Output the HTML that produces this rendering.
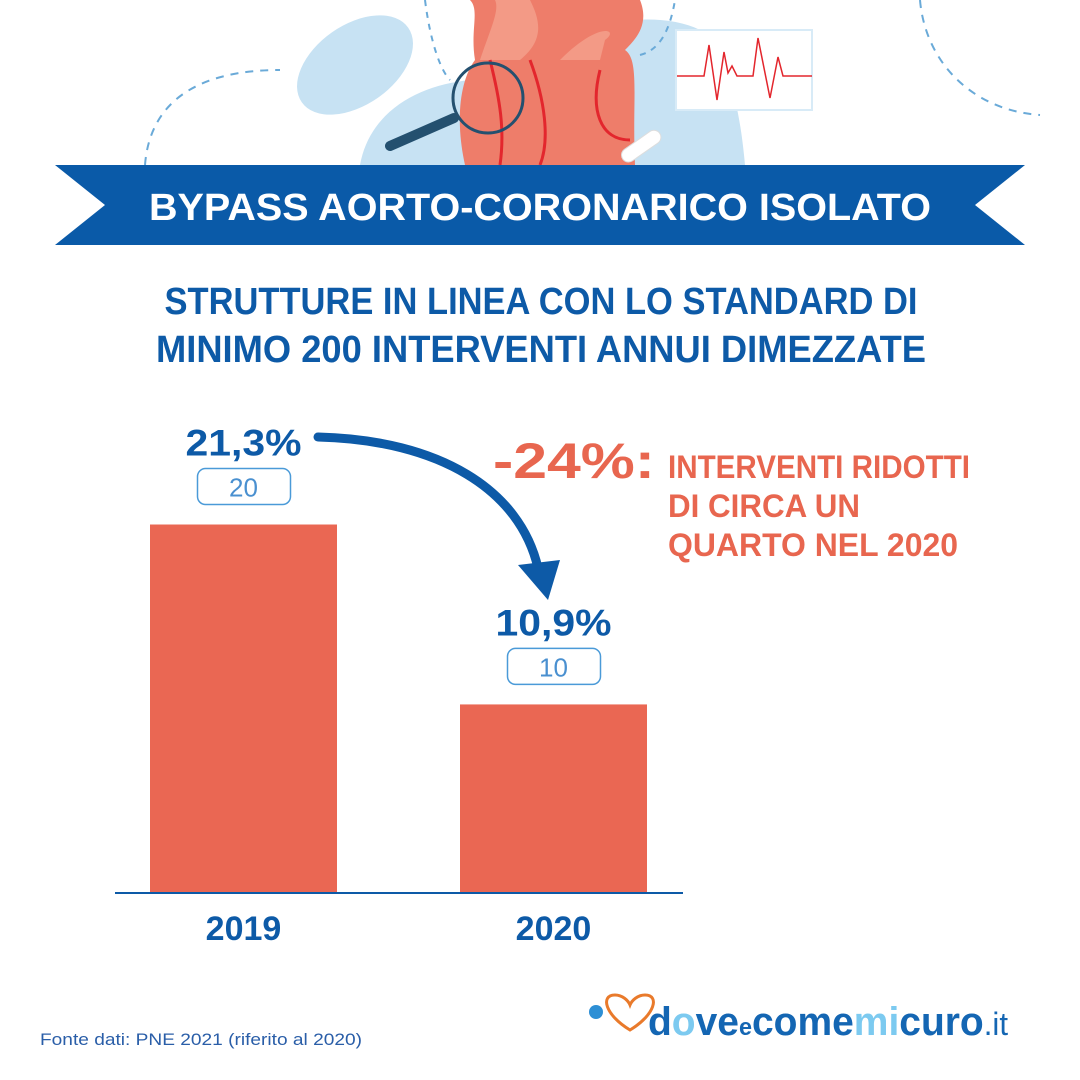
<!DOCTYPE html>
<html><head><meta charset="utf-8"><style>
html,body{margin:0;padding:0;background:#fff}
svg{display:block}
</style></head><body>
<svg width="1080" height="1080" viewBox="0 0 1080 1080" xmlns="http://www.w3.org/2000/svg" font-family="Liberation Sans, sans-serif">
  <g>
    <ellipse cx="355" cy="65" rx="65" ry="40" transform="rotate(-35 355 65)" fill="#c7e2f3"/>
    <path d="M360,165 C370,110 420,85 470,80 C520,40 640,0 700,30 C730,60 740,110 745,165 Z" fill="#c7e2f3"/>
    <path d="M145,165 C150,100 200,70 280,70" fill="none" stroke="#6aaad8" stroke-width="2" stroke-dasharray="8,7"/>
    <path d="M425,0 C430,40 440,70 450,80" fill="none" stroke="#6aaad8" stroke-width="2" stroke-dasharray="6,6"/>
    <path d="M640,55 C660,50 670,30 675,0" fill="none" stroke="#6aaad8" stroke-width="2" stroke-dasharray="6,6"/>
    <path d="M920,0 C925,60 970,110 1040,115" fill="none" stroke="#6aaad8" stroke-width="2" stroke-dasharray="8,7"/>
    <path d="M465,165 C455,120 460,80 475,60 C470,30 480,10 470,0 L640,0 C650,25 635,40 625,50 C640,60 632,100 635,165 Z" fill="#ee7d6a"/>
    <path d="M480,60 C490,30 500,10 495,0 L530,0 C540,20 545,40 520,60 Z" fill="#f39a86"/>
    <path d="M560,60 C600,20 620,30 605,40 L600,60 Z" fill="#f39a86"/>
    <path d="M490,60 C500,100 505,130 500,165 M530,60 C545,100 550,140 540,165 M600,70 C590,110 600,140 630,140" fill="none" stroke="#e3262d" stroke-width="3"/>
    <rect x="619" y="140" width="45" height="14" rx="7" transform="rotate(-35 640 147)" fill="#fff" stroke="#ddd"/>
    <circle cx="488" cy="98" r="35" fill="none" stroke="#24506f" stroke-width="3"/>
    <line x1="454" y1="118" x2="390" y2="146" stroke="#24506f" stroke-width="10" stroke-linecap="round"/>
    <rect x="676" y="30" width="136" height="80" fill="#fff" stroke="#d8ebf7" stroke-width="2"/>
    <polyline points="677,76 704,76 709,45 717,100 724,52 728,73 732,66 737,76 753,76 758,38 770,98 778,57 783,76 812,76" fill="none" stroke="#e3262d" stroke-width="1.5"/>
  </g>
  <g>
    <polygon points="55,165 1025,165 975,205 1025,245 55,245 105,205" fill="#0a5aa8"/>
    <text x="540" y="220" text-anchor="middle" font-size="38" font-weight="bold" fill="#fff" textLength="782" lengthAdjust="spacingAndGlyphs">BYPASS AORTO-CORONARICO ISOLATO</text>
  </g>
  <text x="541" y="314" text-anchor="middle" font-size="38" font-weight="bold" fill="#0d5aa7" textLength="753" lengthAdjust="spacingAndGlyphs">STRUTTURE IN LINEA CON LO STANDARD DI</text>
  <text x="541" y="362" text-anchor="middle" font-size="38" font-weight="bold" fill="#0d5aa7" textLength="770" lengthAdjust="spacingAndGlyphs">MINIMO 200 INTERVENTI ANNUI DIMEZZATE</text>

  <g id="chart"></g>

  <g>
    <path d="M318,437 C440,440 520,490 538,568" fill="none" stroke="#0d5aa7" stroke-width="9" stroke-linecap="round"/>
    <polygon points="518,565 560,560 548,600" fill="#0d5aa7"/>
  </g>
  <g>
    <text x="493" y="478" font-size="50" font-weight="bold" fill="#e8664f" textLength="162" lengthAdjust="spacingAndGlyphs">-24%:</text>
    <text x="668" y="478" font-size="32" font-weight="bold" fill="#e8664f" textLength="302" lengthAdjust="spacingAndGlyphs">INTERVENTI RIDOTTI</text>
    <text x="668" y="517" font-size="32" font-weight="bold" fill="#e8664f" textLength="192" lengthAdjust="spacingAndGlyphs">DI CIRCA UN</text>
    <text x="668" y="556" font-size="32" font-weight="bold" fill="#e8664f" textLength="290" lengthAdjust="spacingAndGlyphs">QUARTO NEL 2020</text>
  </g>
  <text x="40" y="1045" font-size="17" fill="#2a5ea8" textLength="322" lengthAdjust="spacingAndGlyphs">Fonte dati: PNE 2021 (riferito al 2020)</text>
  <g>
    <path d="M630,1030 C605,1015 600,995 615,995 C622,995 628,1000 630,1005 C632,1000 638,995 645,995 C660,995 655,1015 630,1030 Z" fill="none" stroke="#e97a2b" stroke-width="3"/>
    <circle cx="596" cy="1012" r="7" fill="#2d8fd5"/>
    <text x="648" y="1035" font-size="40" fill="#1466b3" font-weight="bold" textLength="360" lengthAdjust="spacingAndGlyphs">d<tspan fill="#7ccaf0">o</tspan>ve<tspan font-size="24">e</tspan>come<tspan fill="#7ccaf0">mi</tspan>curo<tspan font-weight="normal" font-size="32">.it</tspan></text>
  </g>
</svg>
<script>
const categories = ['2019','2020'];
const percentValues = [21.3, 10.9];
const percentLabels = ['21,3%','10,9%'];
const countValues = [20, 10];
const NS='http://www.w3.org/2000/svg';
const chart=document.getElementById('chart');
const baseY=893, scale=17.3, barW=187;
function xPos(i){return 150+i*310;}
function yPos(v){return baseY-v*scale;}
function mk(t,a){const e=document.createElementNS(NS,t);for(const k in a)e.setAttribute(k,a[k]);chart.appendChild(e);return e;}
categories.forEach((c,i)=>{
  const x=xPos(i), y=yPos(percentValues[i]), cx=x+barW/2;
  const b=mk('rect',{x:x,y:y,width:barW,height:baseY-y,fill:'#ea6753'});
  
  
  const p=mk('text',{x:cx,y:y-69,'text-anchor':'middle','font-size':'37','font-weight':'bold',fill:'#0d5aa7',textLength:116,lengthAdjust:'spacingAndGlyphs'});
  p.textContent=percentLabels[i];
  
  
  const r=mk('rect',{x:cx-46,y:y-56,width:93,height:36,rx:8,fill:'#fff',stroke:'#4a9ad8','stroke-width':1.5});
  
  
  const n=mk('text',{x:cx,y:y-28,'text-anchor':'middle','font-size':'26',fill:'#4a90d0'});
  n.textContent=countValues[i];
  
  
  const yl=mk('text',{x:cx,y:940,'text-anchor':'middle','font-size':'34','font-weight':'bold',fill:'#0d5aa7'});
  yl.textContent=c;
  
  
});
const ax=mk('line',{x1:115,y1:baseY,x2:683,y2:baseY,stroke:'#0d5aa7','stroke-width':2});


</script>
</body></html>
